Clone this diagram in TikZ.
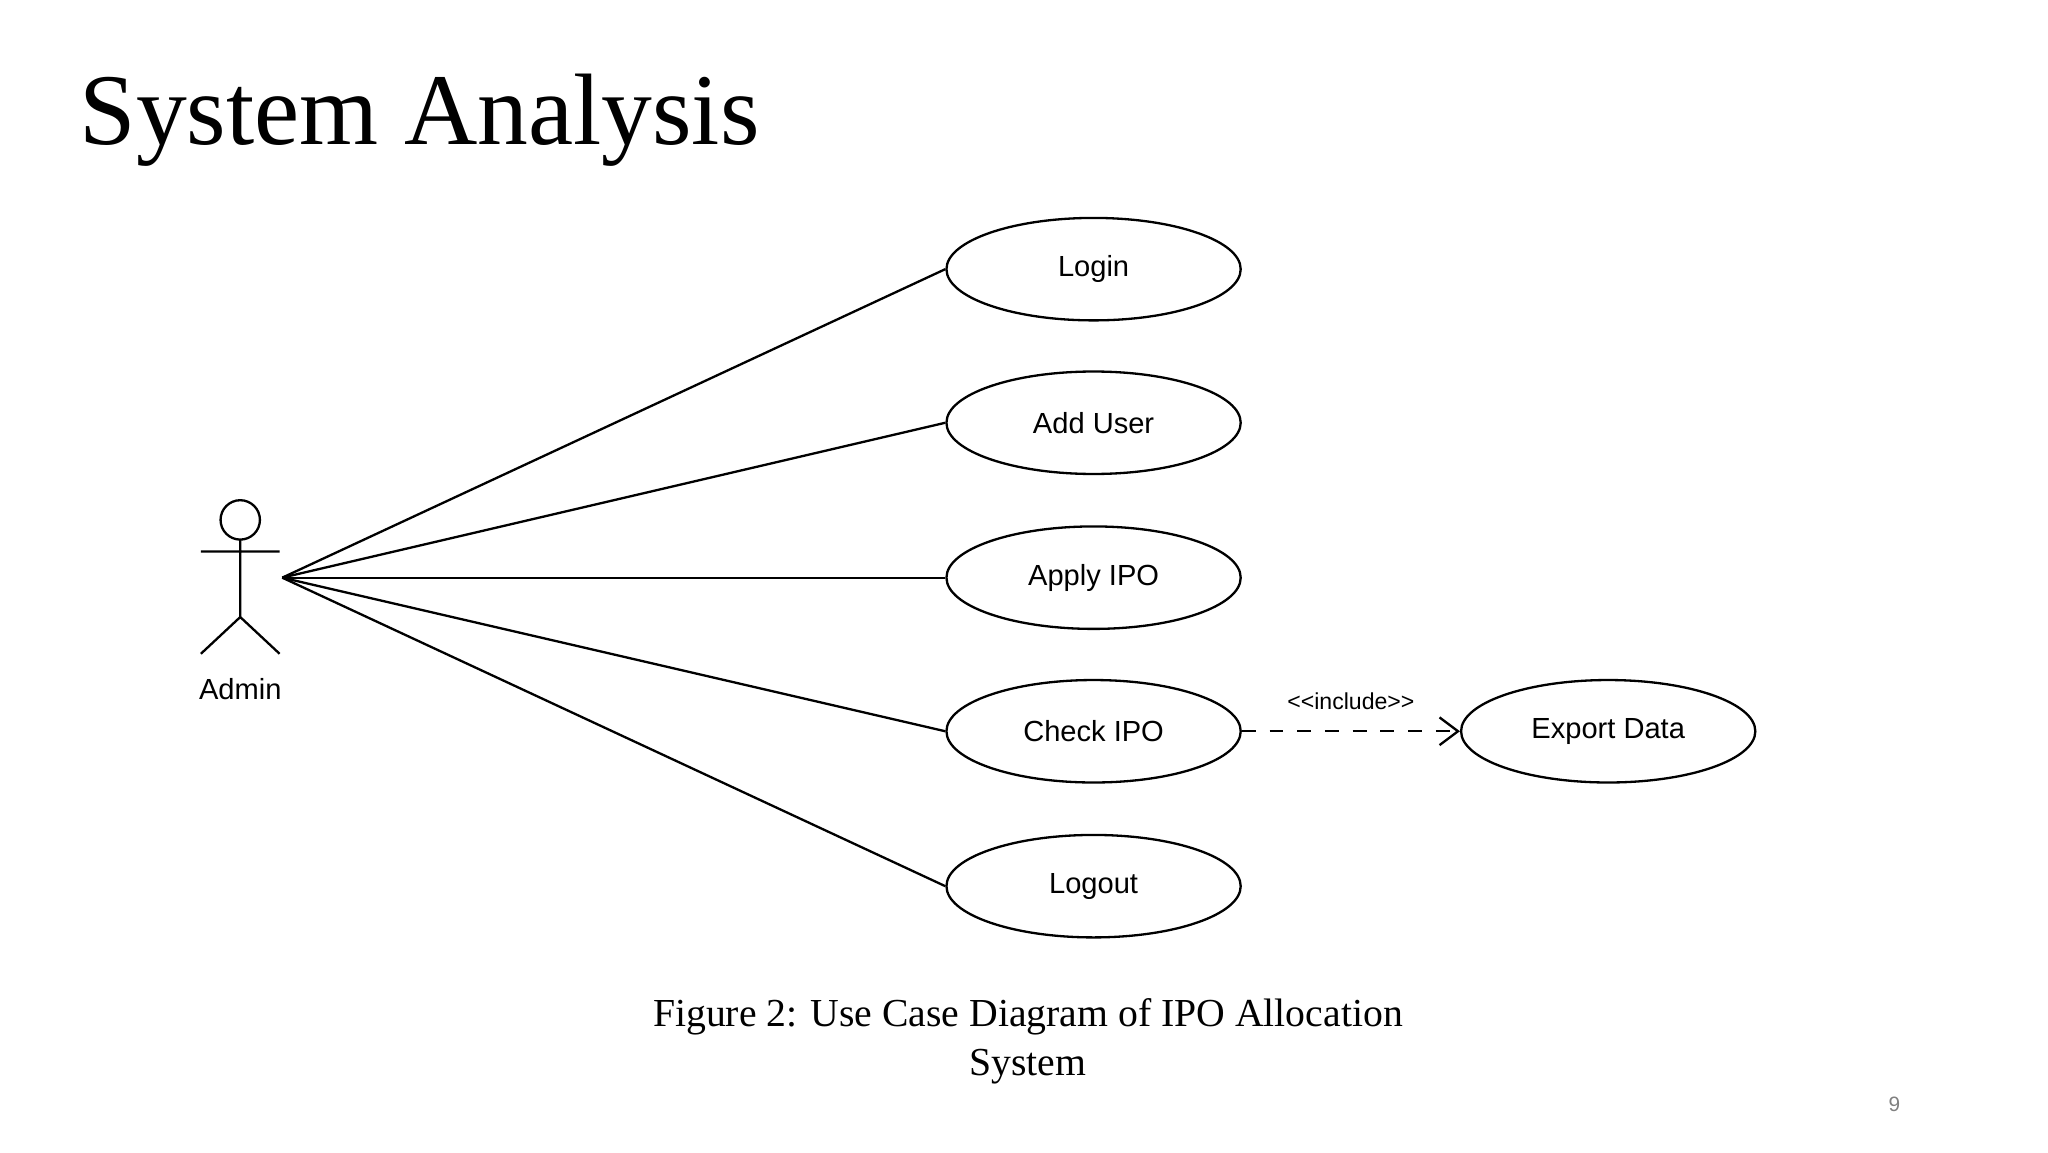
\documentclass[tikz,border=0pt]{standalone}
\usepackage{fontspec}
\setmainfont{Liberation Serif}
\newfontfamily\ucfont{Liberation Sans}
\usetikzlibrary{arrows.meta,shapes.geometric}
\tikzset{
  usecase/.style={draw, line width=0.5pt, ellipse, minimum width=2.24cm, minimum height=0.78cm, inner sep=0pt, font=\ucfont\fontsize{6.3}{7}\selectfont},
  assoc/.style={line width=0.5pt},
}
\begin{document}
\begin{tikzpicture}[x=0.01cm, y=-0.01cm]
\useasboundingbox (0,0) rectangle (1560,877.5);
\node[anchor=base west, inner sep=0pt, font=\fontsize{22}{26}\selectfont] (title) at (60,110) {System Analysis};
% actor
\draw[line width=0.5pt] (183,396) circle (15);
\draw[line width=0.5pt] (183,411) -- (183,470) (153,420) -- (213,420)
  (153,498) -- (183,470) -- (213,498);
\coordinate (admin) at (215,440);
\node[font=\ucfont\fontsize{6.3}{7}\selectfont] (adminlbl) at (183,525) {Admin};
% use cases
\node[usecase] (login) at (833,205) {Login};
\node[usecase] (adduser) at (833,322) {Add User};
\node[usecase] (apply) at (833,440) {Apply IPO};
\node[usecase] (check) at (833,557) {Check IPO};
\node[usecase] (logout) at (833,675) {Logout};
\node[usecase] (export) at (1225,557) {Export Data};
\foreach \uc in {login,adduser,apply,check,logout}
  \draw[assoc] (admin) -- (\uc.west);
\draw[assoc, dashed, -{Straight Barb[length=4pt,width=6pt]}] (check) -- (export)
  node[midway, above=1pt, font=\ucfont\fontsize{5}{6}\selectfont] {<{}<include>{}>};
% caption
\node[align=center, font=\fontsize{8.6}{10.5}\selectfont] (caption) at (783,793) {Figure 2: Use Case Diagram of IPO Allocation\\System};
\node[font=\ucfont\fontsize{4.5}{5}\selectfont, text=gray] (pagenum) at (1443,841) {9};
\end{tikzpicture}
\end{document}
